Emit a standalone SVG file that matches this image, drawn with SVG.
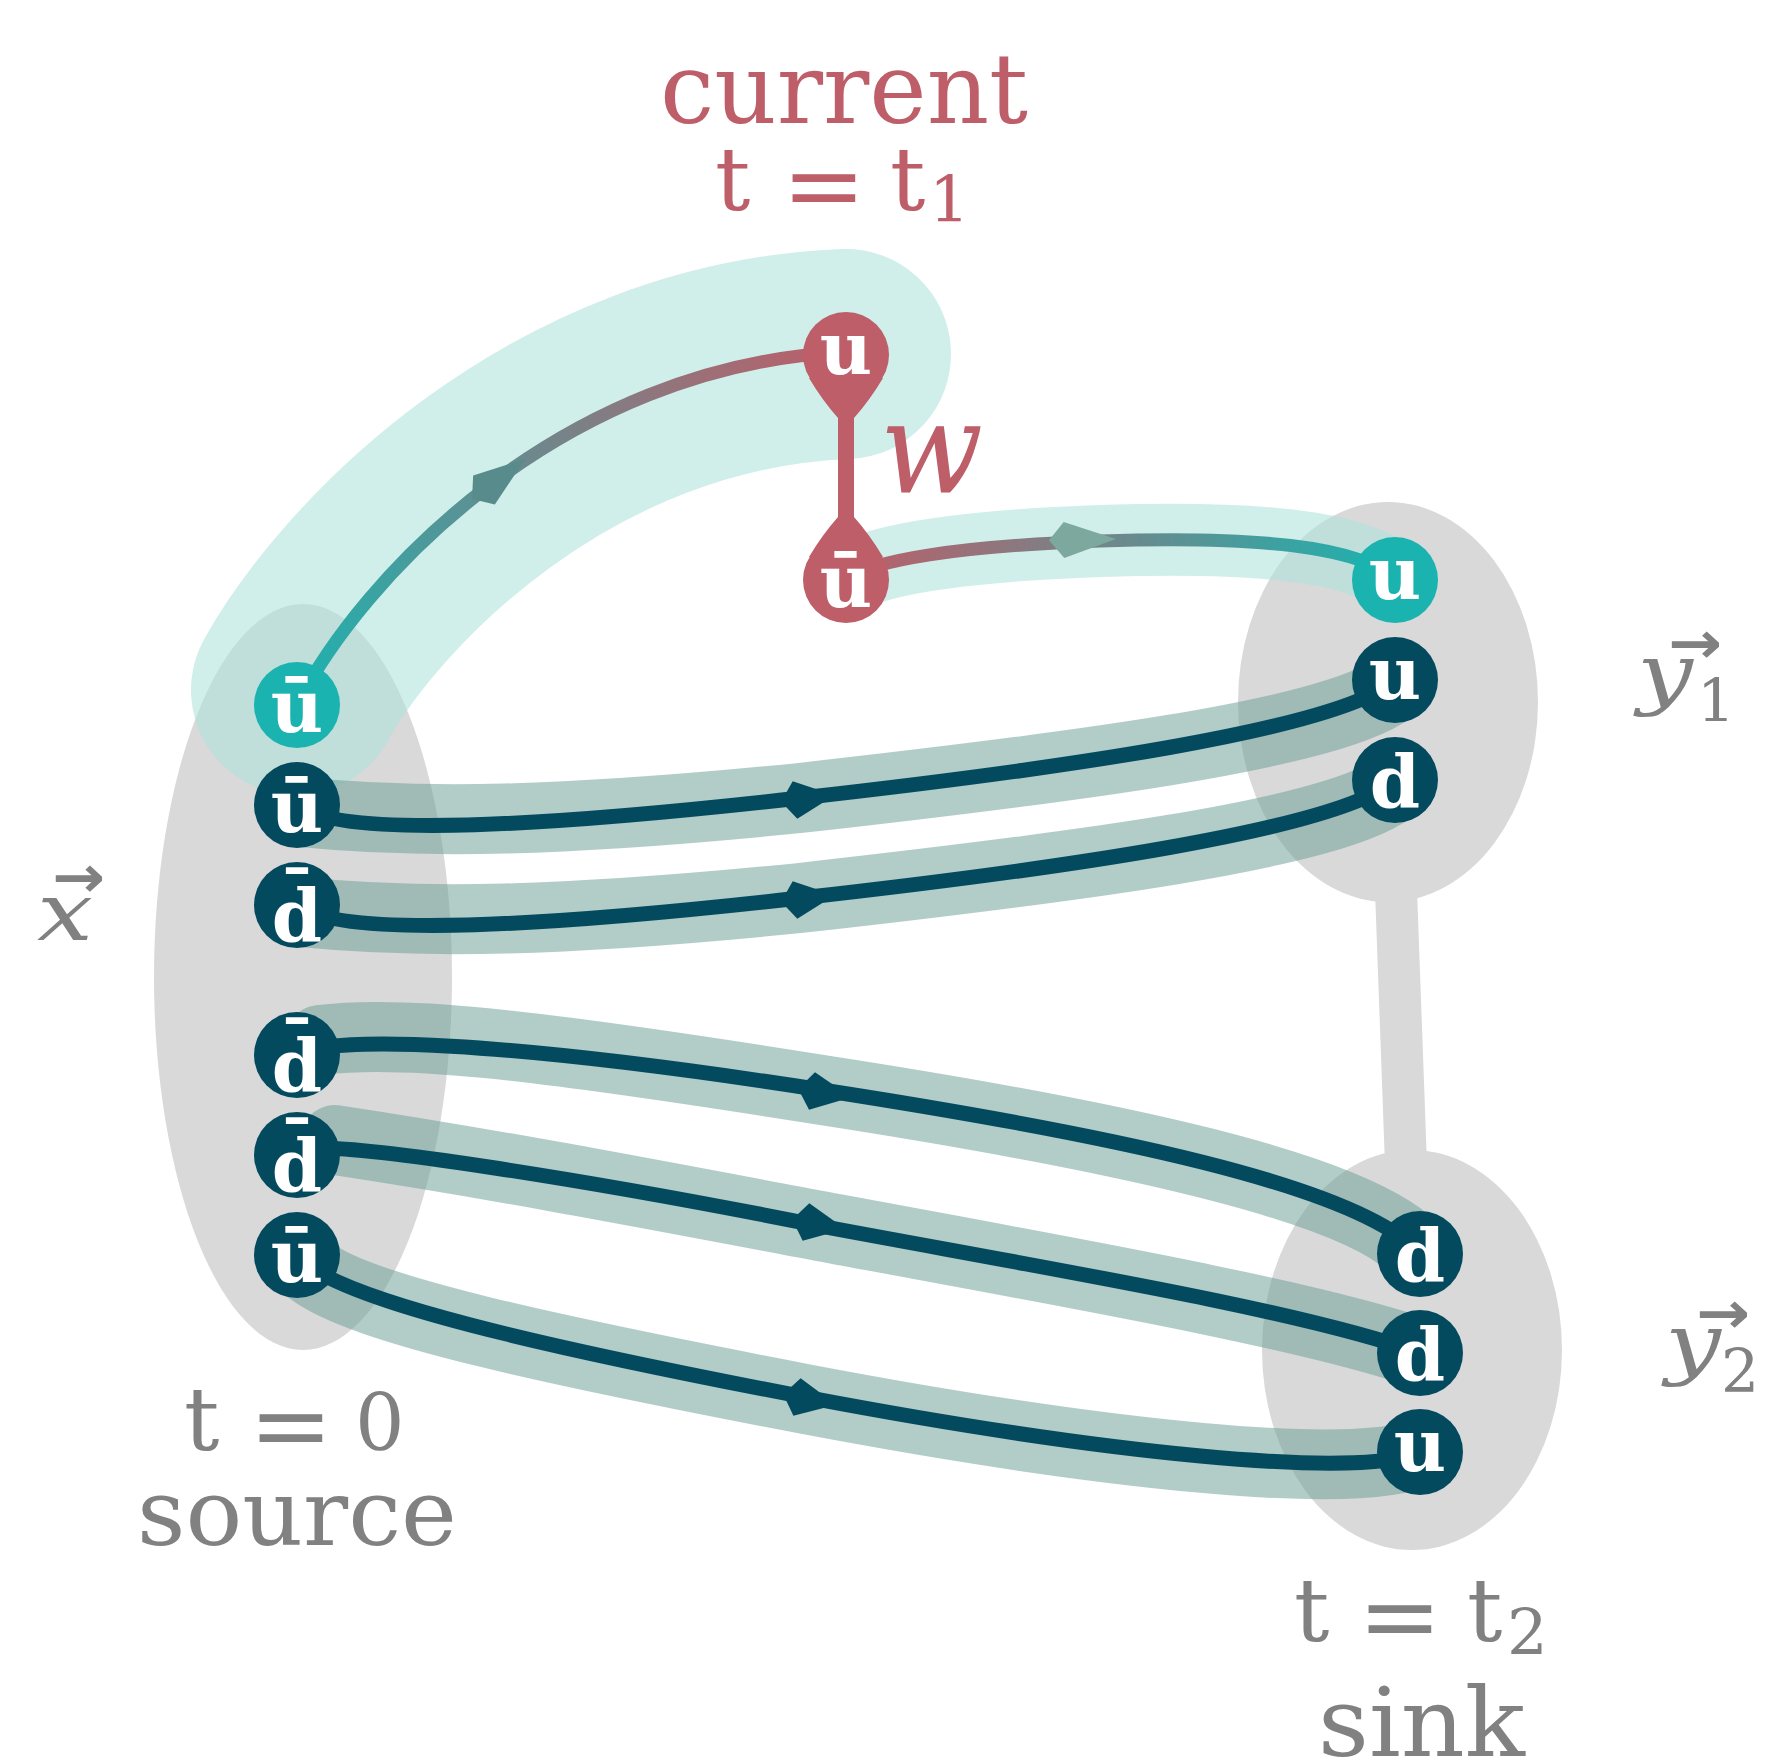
<svg xmlns="http://www.w3.org/2000/svg" width="1766" height="1762" viewBox="0 0 1766 1762">
<defs>
<style>
.ell{fill:#D9D9D9}
.tband{fill:none;stroke:#AEE2DB;stroke-opacity:.58;stroke-linecap:round}
.dband{fill:none;stroke:#6D9E97;stroke-opacity:.53;stroke-width:70;stroke-linecap:round}
.dline{fill:none;stroke:#044A5F;stroke-width:15;stroke-linecap:round}
.cline{fill:none;stroke-width:13;stroke-linecap:round}
.dar{fill:#044A5F}
.nd{fill:#044A5F}
.nt{fill:#1BB3B0}
.nr{fill:#BD5E69}
.ql{font-family:"DejaVu Serif","Liberation Serif",serif;font-weight:bold;font-size:72px;fill:#fff;text-anchor:middle}
.gt{font-family:"DejaVu Serif","Liberation Serif",serif;fill:#818181}
.rt{font-family:"DejaVu Serif","Liberation Serif",serif;fill:#BD5E69}
.mi{font-style:italic}
.ar{font-family:"DejaVu Sans",sans-serif;font-weight:bold}
</style>
<linearGradient id="g1" gradientUnits="userSpaceOnUse" x1="297" y1="705" x2="846" y2="355">
<stop offset="0" stop-color="#1BB3B0"/><stop offset="1" stop-color="#BD5E69"/>
</linearGradient>
<linearGradient id="g2" gradientUnits="userSpaceOnUse" x1="846" y1="0" x2="1395" y2="0">
<stop offset="0" stop-color="#BD5E69"/><stop offset="1" stop-color="#1BB3B0"/>
</linearGradient>
<path id="kite" d="M-14,0 L0,-19 L40,0 L0,19 Z"/>
<path id="kite2" d="M-15,0 L0,-18 L52,0 L0,18 Z"/>
</defs>

<g id="regions">
<ellipse class="ell" cx="303" cy="977" rx="149" ry="373"/>
<ellipse class="ell" cx="1388" cy="702" rx="150" ry="200"/>
<ellipse class="ell" cx="1412" cy="1350" rx="150" ry="200"/>
<line x1="1396" y1="890" x2="1406" y2="1165" stroke="#D9D9D9" stroke-width="42"/>
</g>

<g id="connectors">
<path class="tband" stroke-width="210" d="M296,690 C360,575 560,365 846,354"/>
<path class="tband" stroke-width="72" d="M846,580 C870,560 960,546 1100,541 C1250,536 1360,545 1395,580"/>
<path class="dband" d="M300,812 C420,824 560,822 800,798 C1050,770 1340,735 1395,686"/>
<path class="dband" d="M300,912 C420,924 560,922 800,898 C1050,870 1340,835 1395,786"/>
<path class="dband" d="M320,1040 C400,1030 520,1042 822,1090 C1100,1133 1360,1185 1420,1254"/>
<path class="dband" d="M335,1140 C500,1165 650,1194 820,1226 C1050,1269 1300,1312 1420,1353"/>
<path class="dband" d="M310,1270 C360,1310 560,1352 805,1399 C1100,1455 1360,1482 1420,1452"/>

<path class="cline" stroke="url(#g1)" d="M297,705 C360,580 560,365 846,352"/>
<path class="cline" stroke="url(#g2)" d="M846,580 C870,560 960,546 1100,541 C1250,536 1360,545 1395,580"/>
<path class="dline" d="M297,805 C340,840 560,825 800,798 C1050,770 1340,730 1395,680"/>
<path class="dline" d="M297,905 C340,940 560,925 800,898 C1050,870 1340,830 1395,780"/>
<path class="dline" d="M297,1055 C330,1035 500,1040 822,1090 C1100,1133 1360,1185 1420,1254"/>
<path class="dline" d="M297,1150 C330,1138 600,1182 820,1226 C1050,1269 1300,1310 1420,1353"/>
<path class="dline" d="M297,1255 C330,1300 560,1350 805,1397 C1100,1453 1360,1480 1420,1452"/>

<use href="#kite2" fill="#588C8C" transform="translate(484,490) rotate(-37)"/>
<use href="#kite2" fill="#7DA89E" transform="translate(1064,540) rotate(-1)"/>
<use href="#kite" class="dar" transform="translate(795,800) rotate(-7)"/>
<use href="#kite" class="dar" transform="translate(795,900) rotate(-7)"/>
<use href="#kite" class="dar" transform="translate(812,1091) rotate(9)"/>
<use href="#kite" class="dar" transform="translate(806,1222) rotate(10)"/>
<use href="#kite" class="dar" transform="translate(797,1397) rotate(11)"/>

<path class="nr" d="M809,378 Q822,400 838,418 L838,517 Q822,535 809,557 L883,557 Q870,535 854,517 L854,418 Q870,400 883,378 Z"/>
<text class="rt mi" x="880" y="492" font-size="128" textLength="103" lengthAdjust="spacingAndGlyphs">w</text>
</g>

<g id="node-cur-u"><circle class="nr" cx="846" cy="355" r="43"/><text class="ql" x="846" y="374">u</text></g>
<g id="node-cur-ubar"><circle class="nr" cx="846" cy="580" r="43"/><text class="ql" x="846" y="607">ū</text></g>

<g id="node-src-ubar1"><circle class="nt" cx="297" cy="705" r="43"/><text class="ql" x="297" y="732">ū</text></g>
<g id="node-src-ubar2"><circle class="nd" cx="297" cy="805" r="43"/><text class="ql" x="297" y="832">ū</text></g>
<g id="node-src-dbar1"><circle class="nd" cx="297" cy="905" r="43"/><text class="ql" x="297" y="942">d<tspan x="297" y="923">¯</tspan></text></g>
<g id="node-src-dbar2"><circle class="nd" cx="297" cy="1055" r="43"/><text class="ql" x="297" y="1092">d<tspan x="297" y="1073">¯</tspan></text></g>
<g id="node-src-dbar3"><circle class="nd" cx="297" cy="1155" r="43"/><text class="ql" x="297" y="1192">d<tspan x="297" y="1173">¯</tspan></text></g>
<g id="node-src-ubar3"><circle class="nd" cx="297" cy="1255" r="43"/><text class="ql" x="297" y="1282">ū</text></g>

<g id="node-y1-u1"><circle class="nt" cx="1395" cy="580" r="43"/><text class="ql" x="1395" y="599">u</text></g>
<g id="node-y1-u2"><circle class="nd" cx="1395" cy="680" r="43"/><text class="ql" x="1395" y="699">u</text></g>
<g id="node-y1-d"><circle class="nd" cx="1395" cy="780" r="43"/><text class="ql" x="1395" y="808">d</text></g>

<g id="node-y2-d1"><circle class="nd" cx="1420" cy="1254" r="43"/><text class="ql" x="1420" y="1282">d</text></g>
<g id="node-y2-d2"><circle class="nd" cx="1420" cy="1353" r="43"/><text class="ql" x="1420" y="1381">d</text></g>
<g id="node-y2-u"><circle class="nd" cx="1420" cy="1452" r="43"/><text class="ql" x="1420" y="1471">u</text></g>

<g id="label-current">
<text class="rt" x="660" y="123" font-size="97" textLength="368" lengthAdjust="spacingAndGlyphs">current</text>
<text class="rt" x="715" y="210" font-size="88">t</text>
<text class="rt" x="782" y="219" font-size="100">=</text>
<text class="rt" x="890" y="210" font-size="88">t</text>
<text class="rt" x="929" y="222" font-size="64">1</text>
</g>

<g id="label-source">
<text class="gt" x="184" y="1450" font-size="88">t</text>
<text class="gt" x="249" y="1459" font-size="100">=</text>
<text class="gt" x="355" y="1450" font-size="78">0</text>
<text class="gt" x="137" y="1545" font-size="92" textLength="320" lengthAdjust="spacingAndGlyphs">source</text>
</g>

<g id="label-sink">
<text class="gt" x="1294" y="1641" font-size="88">t</text>
<text class="gt" x="1358" y="1650" font-size="100">=</text>
<text class="gt" x="1467" y="1641" font-size="88">t</text>
<text class="gt" x="1507" y="1655" font-size="64">2</text>
<text class="gt" x="1318" y="1756" font-size="95" textLength="207" lengthAdjust="spacingAndGlyphs">sink</text>
</g>

<g id="label-x">
<text class="gt mi" x="37" y="940" font-size="81" textLength="56" lengthAdjust="spacingAndGlyphs">x</text>
<text class="gt ar" x="52" y="897" font-size="58" textLength="53" lengthAdjust="spacingAndGlyphs">→</text>
</g>
<g id="label-y1">
<text class="gt mi" x="1637" y="700" font-size="78" textLength="56" lengthAdjust="spacingAndGlyphs">y</text>
<text class="gt" x="1697" y="722" font-size="60">1</text>
<text class="gt ar" x="1668" y="663" font-size="58" textLength="54" lengthAdjust="spacingAndGlyphs">→</text>
</g>
<g id="label-y2">
<text class="gt mi" x="1665" y="1370" font-size="78" textLength="56" lengthAdjust="spacingAndGlyphs">y</text>
<text class="gt" x="1721" y="1392" font-size="60">2</text>
<text class="gt ar" x="1696" y="1333" font-size="58" textLength="54" lengthAdjust="spacingAndGlyphs">→</text>
</g>
</svg>
